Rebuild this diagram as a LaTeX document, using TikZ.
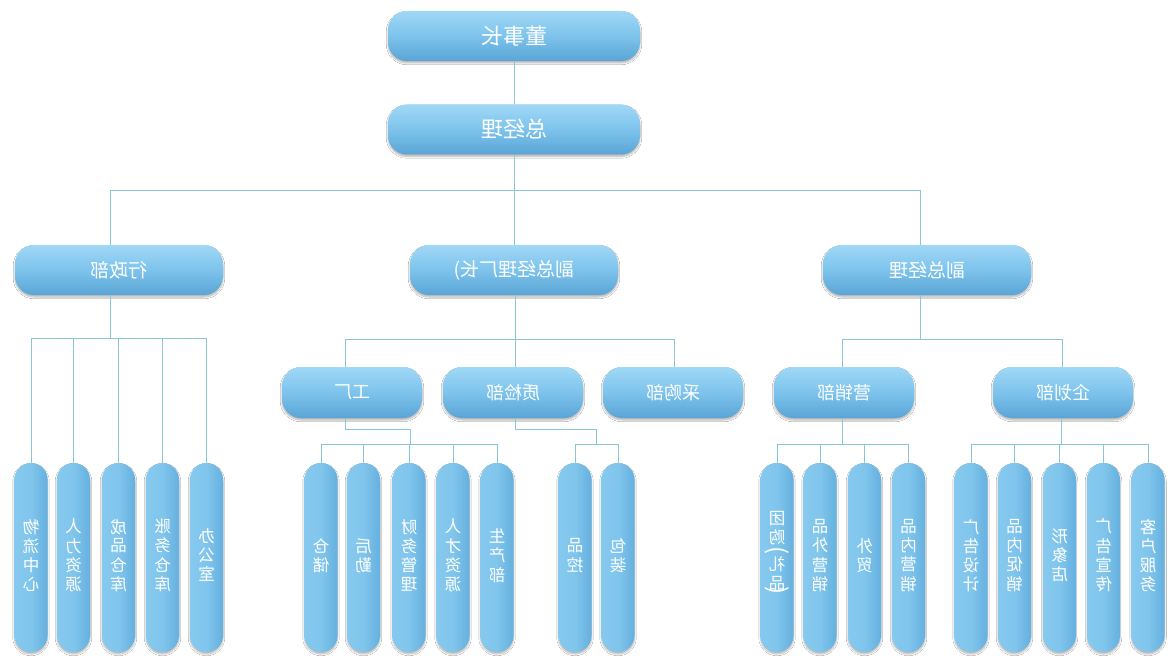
\documentclass[tikz,border=0pt]{standalone}
\usepackage{fontspec}
\usepackage{graphicx}
\newfontfamily\cjk{Noto Sans CJK SC}
\usetikzlibrary{shadows,shadows.blur}
\definecolor{lnc}{HTML}{88C6DA}
\definecolor{bxT}{HTML}{A0D8F6}
\definecolor{bxM}{HTML}{7DC3EC}
\definecolor{bxB}{HTML}{5AA5D6}
\definecolor{plL}{HTML}{86C9EF}
\definecolor{plM}{HTML}{80C5EC}
\definecolor{plR}{HTML}{65B0DF}
\newcommand\mir[1]{\scalebox{-1}[1]{#1}}
\newcommand\vtx[1]{\scalebox{-1}[1]{\begin{tabular}{@{}c@{}}#1\end{tabular}}}
\newcommand\vpar[1]{\rotatebox[origin=c]{-90}{\fontsize{24}{24}\selectfont #1}}
\tikzset{
  base/.style={rectangle, draw=none, text=white, inner sep=0pt,
    blur shadow={shadow blur steps=6, shadow xshift=0pt, shadow yshift=-2pt, shadow opacity=30}},
  topbox/.style={base, rounded corners=19pt, top color=bxT, bottom color=bxB, middle color=bxM,
    minimum width=252pt, minimum height=50pt, font=\cjk\fontsize{22}{26}\selectfont},
  ltwobox/.style={base, rounded corners=19pt, top color=bxT, bottom color=bxB, middle color=bxM,
    minimum width=208pt, minimum height=50pt, font=\cjk\fontsize{19}{22}\selectfont},
  lthreebox/.style={base, rounded corners=19pt, top color=bxT, bottom color=bxB, middle color=bxM,
    minimum width=140pt, minimum height=51pt, font=\cjk\fontsize{18}{21}\selectfont},
  pill/.style={base, rounded corners=16.4pt, left color=plL, right color=plR, middle color=plM,
    minimum width=33pt, minimum height=189pt, font=\cjk\fontsize{16.5}{18}\selectfont},
  conn/.style={draw=lnc, line width=0.9pt}
}
\begin{document}
\begin{tikzpicture}[x=1pt,y=-1pt]
\fill[white] (0,0) rectangle (1170,660);
\useasboundingbox (0,0) rectangle (1170,660);

% level 1
\node[topbox] (ceo) at (514,36) {\mir{董事长}};
\node[topbox] (gm) at (514,129.5) {\mir{总经理}};
% level 2
\node[ltwobox] (xz) at (119,270) {\mir{行政部}\hspace{16pt}};
\node[ltwobox] (fgc) at (514,270) {\mir{副总经理厂长)}\hspace{6pt}};
\node[ltwobox] (fg) at (927,270) {\mir{副总经理}\hspace{10pt}};
% level 3
\node[lthreebox] (gc) at (352,392.5) {\mir{工厂}};
\node[lthreebox] (zj) at (513,392.5) {\mir{质检部}};
\node[lthreebox] (cg) at (673,392.5) {\mir{采购部}};
\node[lthreebox] (yx) at (844,392.5) {\mir{营销部}};
\node[lthreebox] (qh) at (1063,392.5) {\mir{企划部}};
% level 4
\node[pill] (a1) at (31,557.5) {\vtx{物\\流\\中\\心}};
\node[pill] (a2) at (73.5,557.5) {\vtx{人\\力\\资\\源}};
\node[pill] (a3) at (118.5,557.5) {\vtx{成\\品\\仓\\库}};
\node[pill] (a4) at (162.5,557.5) {\vtx{账\\务\\仓\\库}};
\node[pill] (a5) at (206.5,557.5) {\vtx{办\\公\\室}};

\node[pill] (b1) at (321,557.5) {\vtx{仓\\储}};
\node[pill] (b2) at (363.5,557.5) {\vtx{后\\勤}};
\node[pill] (b3) at (409,557.5) {\vtx{财\\务\\管\\理}};
\node[pill] (b4) at (453,557.5) {\vtx{人\\才\\资\\源}};
\node[pill] (b5) at (497,557.5) {\vtx{生\\产\\部}};

\node[pill] (c1) at (575,557.5) {\vtx{品\\控}};
\node[pill] (c2) at (618,557.5) {\vtx{包\\装}};

\node[pill] (d1) at (777,557.5) {\vtx{团\\购\\[-4pt]\vpar{(}\\[-6pt]礼\\品\\[-9pt]\vpar{)}}};
\node[pill] (d2) at (820,557.5) {\vtx{品\\外\\营\\销}};
\node[pill] (d3) at (864.5,557.5) {\vtx{外\\贸}};
\node[pill] (d4) at (908.5,557.5) {\vtx{品\\内\\营\\销}};

\node[pill] (e1) at (971,557.5) {\vtx{广\\告\\设\\计}};
\node[pill] (e2) at (1014.5,557.5) {\vtx{品\\内\\促\\销}};
\node[pill] (e3) at (1059.5,557.5) {\vtx{形\\象\\店}};
\node[pill] (e4) at (1103.5,557.5) {\vtx{广\\告\\宣\\传}};
\node[pill] (e5) at (1148,557.5) {\vtx{客\\户\\服\\务}};

% connectors level 1-2
\coordinate (j1) at (110,190);
\coordinate (j2) at (514,190);
\coordinate (j3) at (920,190);
\draw[conn] (ceo) -- (gm);
\draw[conn] (gm.south) -- (j2);
\draw[conn] (j1) -- (j3);
\draw[conn] (j1) -- (j1 |- xz.north);
\draw[conn] (j2) -- (j2 |- fgc.north);
\draw[conn] (j3) -- (j3 |- fg.north);

% xz -> pills
\coordinate (k1) at (110,338);
\draw[conn] (xz.south -| k1) -- (k1);
\draw[conn] (a1.north |- k1) -- (a5.north |- k1);
\foreach \n in {a1,a2,a3,a4,a5} \draw[conn] (\n.north |- k1) -- (\n.north);

% fgc -> level 3
\coordinate (k2) at (515,339);
\coordinate (m1) at (345,339);
\coordinate (m3) at (674,339);
\draw[conn] (fgc.south -| k2) -- (k2);
\draw[conn] (m1) -- (m3);
\draw[conn] (m1) -- (m1 |- gc.north);
\draw[conn] (k2) -- (k2 |- zj.north);
\draw[conn] (m3) -- (m3 |- cg.north);

% fg -> level 3
\coordinate (k3) at (920,339);
\coordinate (n1) at (842,339);
\coordinate (n2) at (1062,339);
\draw[conn] (fg.south -| k3) -- (k3);
\draw[conn] (n1) -- (n2);
\draw[conn] (n1) -- (n1 |- yx.north);
\draw[conn] (n2) -- (n2 |- qh.north);

% gc -> pills
\coordinate (p1) at (345,429);
\coordinate (p2) at (410,429);
\coordinate (p3) at (410,444);
\draw[conn] (gc.south -| p1) -- (p1) -- (p2) -- (p3);
\draw[conn] (b1.north |- p3) -- (b5.north |- p3);
\foreach \n in {b1,b2,b3,b4,b5} \draw[conn] (\n.north |- p3) -- (\n.north);

% zj -> pills
\coordinate (q1) at (515,429);
\coordinate (q2) at (596,429);
\coordinate (q3) at (596,444);
\draw[conn] (zj.south -| q1) -- (q1) -- (q2) -- (q3);
\draw[conn] (c1.north |- q3) -- (c2.north |- q3);
\foreach \n in {c1,c2} \draw[conn] (\n.north |- q3) -- (\n.north);

% yx -> pills
\coordinate (r1) at (842,444);
\draw[conn] (yx.south -| r1) -- (r1);
\draw[conn] (d1.north |- r1) -- (d4.north |- r1);
\foreach \n in {d1,d2,d3,d4} \draw[conn] (\n.north |- r1) -- (\n.north);

% qh -> pills
\coordinate (s1) at (1061,444);
\draw[conn] (qh.south -| s1) -- (s1);
\draw[conn] (e1.north |- s1) -- (e5.north |- s1);
\foreach \n in {e1,e2,e3,e4,e5} \draw[conn] (\n.north |- s1) -- (\n.north);
\end{tikzpicture}
\end{document}
